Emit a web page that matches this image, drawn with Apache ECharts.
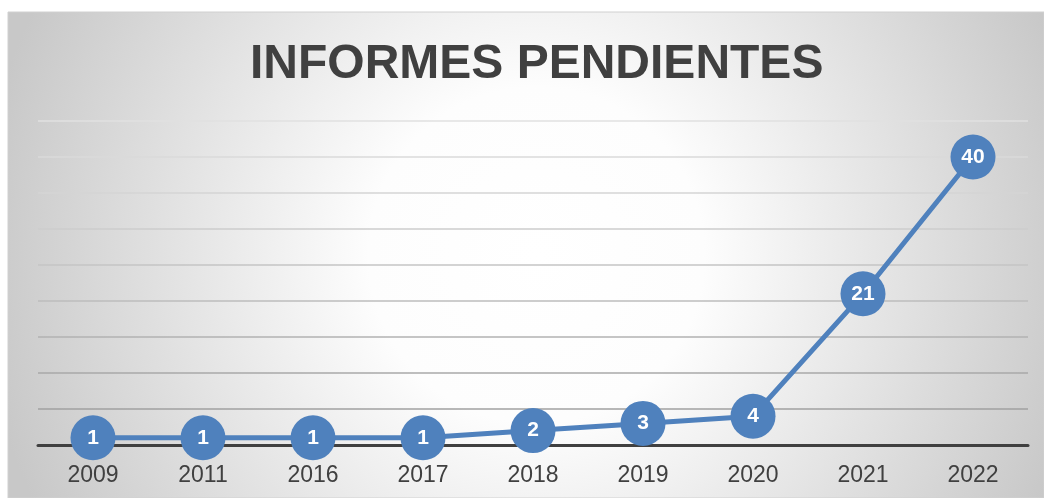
<!DOCTYPE html>
<html>
<head>
<meta charset="utf-8">
<script src="https://cdn.jsdelivr.net/npm/echarts@6/dist/echarts.min.js"></script>
<style>
  html, body { margin: 0; padding: 0; background: #fff; }
  #chart { width: 1044px; height: 498px; }
</style>
</head>
<body>
<div id="chart"></div>
<script>
var years = ['2009', '2011', '2016', '2017', '2018', '2019', '2020', '2021', '2022'];
var pendientes = [1, 1, 1, 1, 2, 3, 4, 21, 40];
// gridline shades, from value 0 upwards
var gridColors = ['#999999', '#a0a0a0', '#a8a8a8', '#b2b2b2', '#bcbcbc', '#c4c4c4', '#cccccc', '#d4d4d4', '#dadada', '#e0e0e0'];

var myChart = echarts.init(document.getElementById('chart'));

var option = {
    backgroundColor: '#fff',
    graphic: [{
        type: 'rect',
        z: -10,
        shape: {x: 8, y: 12, width: 1036, height: 486},
        style: {
            fill: new echarts.graphic.RadialGradient(0.51, 0.5, 1.15, [
                {offset: 0, color: '#ffffff'},
                {offset: 0.3, color: '#fdfdfd'},
                {offset: 1, color: '#c8c8c8'}
            ]),
            stroke: '#d0d0d0',
            lineWidth: 1
        }
    }],
    title: {
        text: 'INFORMES PENDIENTES',
        left: 245,
        top: 36,
        textStyle: {
            fontFamily: 'Liberation Sans, Arial, sans-serif',
            fontSize: 48,
            fontWeight: 'bold',
            color: '#404040'
        }
    },
    grid: {
        left: 38,
        right: 16,
        top: 121,
        bottom: 53
    },
    xAxis: {
        type: 'category',
        data: years,
        boundaryGap: true,
        axisLine: {show: true, lineStyle: {color: '#404040', width: 3}},
        axisTick: {show: false},
        axisLabel: {
            margin: 19,
            fontFamily: 'Liberation Sans, Arial, sans-serif',
            fontSize: 23,
            color: '#404040'
        }
    },
    yAxis: {
        type: 'value',
        min: 0,
        max: 45,
        interval: 5,
        axisLine: {show: false},
        axisTick: {show: false},
        axisLabel: {show: false},
        splitLine: {lineStyle: {color: gridColors, width: 1.5}}
    },
    series: [{
        type: 'line',
        data: pendientes,
        symbol: 'circle',
        symbolSize: 45,
        lineStyle: {color: '#4f81bd', width: 5},
        itemStyle: {color: '#4f81bd', borderWidth: 0},
        label: {
            show: true,
            position: 'inside',
            fontFamily: 'Liberation Sans, Arial, sans-serif',
            fontSize: 21,
            fontWeight: 'bold',
            color: '#fff'
        },
        animation: false
    }],
    animation: false
};

myChart.setOption(option);
</script>
</body>
</html>
